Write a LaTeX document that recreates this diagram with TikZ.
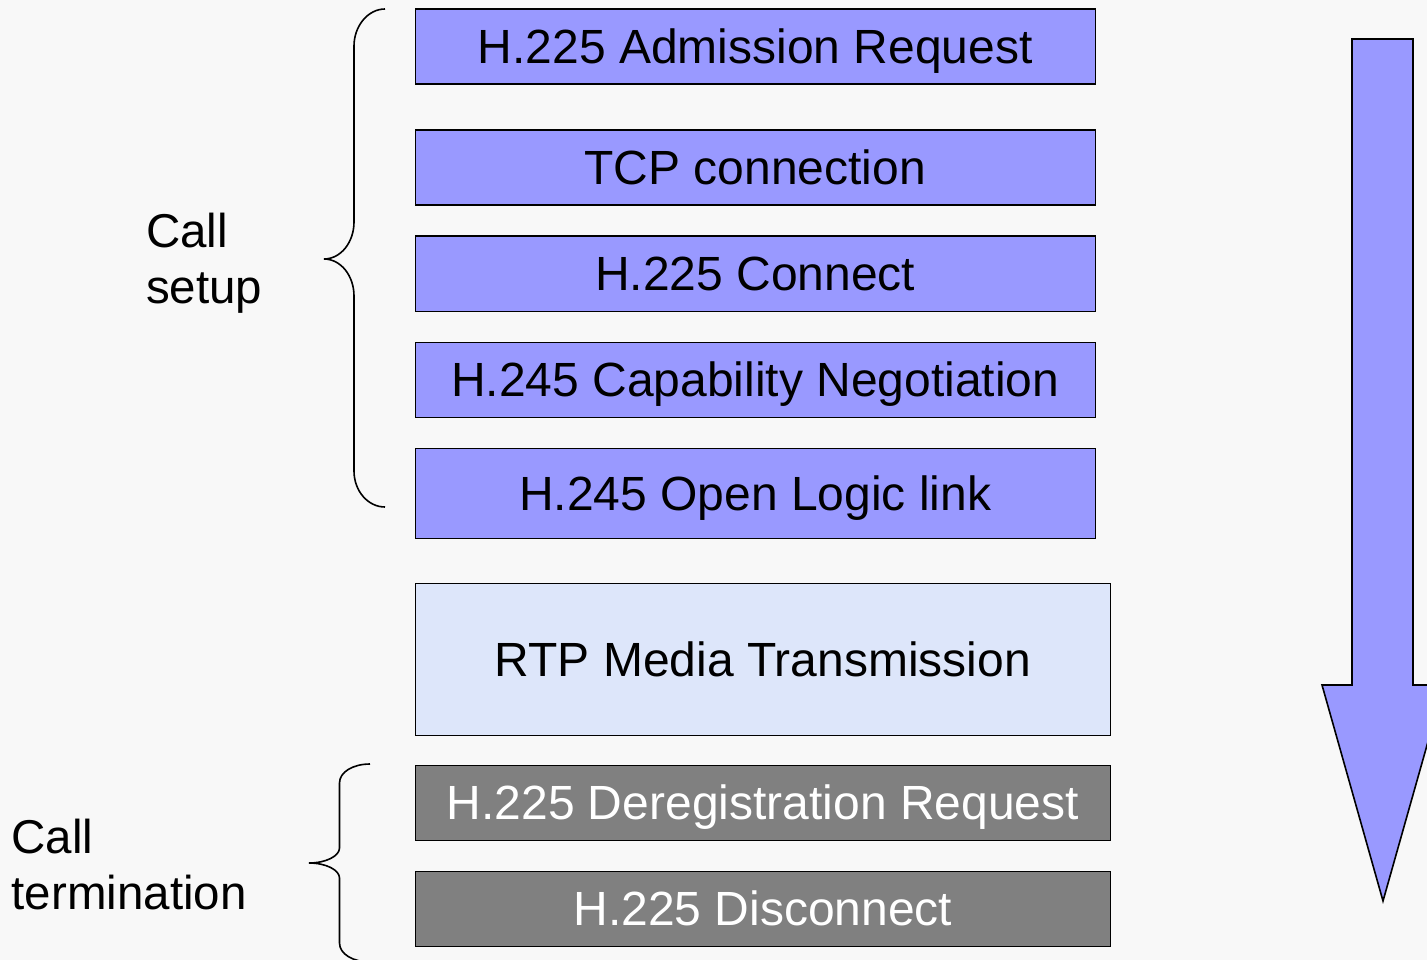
\documentclass[tikz,border=0pt]{standalone}
\usepackage{fontspec}
\setmainfont{Liberation Sans}
\definecolor{stepblue}{HTML}{9999FF}
\definecolor{mediablue}{RGB}{221,230,250}
\definecolor{endgrey}{HTML}{808080}
\definecolor{pagebg}{HTML}{F8F8F8}
\begin{document}
\begin{tikzpicture}[x=1pt,y=-1pt,
  phase/.style={draw=black, line width=1.6pt, inner sep=0pt, anchor=north west,
    minimum height=75pt, text height=34pt, text depth=0pt,
    font=\fontsize{48}{56}\selectfont},
  setupbox/.style={phase, fill=stepblue, minimum width=680pt},
  mediabox/.style={phase, fill=mediablue, minimum width=695pt},
  endbox/.style={phase, fill=endgrey, text=white, minimum width=695pt},
  grouplabel/.style={anchor=base west, align=left, inner sep=0pt,
    font=\fontsize{47.5}{56}\selectfont},
  bracket/.style={draw=black, line width=1.6pt},
  flowarrow/.style={draw=black, line width=1.6pt, fill=stepblue, line join=miter}]
\useasboundingbox (0,0) rectangle (1427,960);
\clip (0,0) rectangle (1427,960);
\fill[pagebg] (0,0) rectangle (1427,960);

% call setup steps
\node[setupbox] (arq) at (414.5,8.5) {H.225 Admission Request};
\node[setupbox] (tcp) at (414.5,129.5) {TCP connection};
\node[setupbox] (con) at (414.5,235.5) {H.225 Connect};
\node[setupbox] (cap) at (414.5,341.5) {H.245 Capability Negotiation};
\node[setupbox, minimum height=90pt] (olc) at (414.5,447.5) {H.245 Open Logic link};

% media phase
\node[mediabox, minimum height=152pt] (rtp) at (414.5,582.5) {RTP Media Transmission};

% call termination steps
\node[endbox] (drq) at (414.5,764.5) {H.225 Deregistration Request};
\node[endbox] (dis) at (414.5,870.5) {H.225 Disconnect};

% group labels (anchored on the baseline of the last line)
\node[grouplabel] (setup) at (146,303) {Call\\setup};
\node[grouplabel] (term) at (11.5,909) {Call\\termination};

% brace for the setup group
\draw[bracket] (385,9) .. controls (368,9) and (354,26) .. (354,46)
  -- (354,222) .. controls (354,242) and (341,259) .. (324,259)
  .. controls (341,259) and (354,276) .. (354,296)
  -- (354,471) .. controls (354,491) and (368,507) .. (385,507);

% brace for the termination group
\draw[bracket] (370,764) .. controls (353,764) and (339.5,772) .. (339.5,783)
  -- (339.5,848) .. controls (339.5,856) and (326,863) .. (309,863)
  .. controls (326,863) and (339.5,870) .. (339.5,878)
  -- (339.5,943) .. controls (339.5,954) and (353,962) .. (370,962);

% time arrow
\draw[flowarrow] (1352,39) -- (1413,39) -- (1413,685) -- (1444,685)
  -- (1383,901) -- (1322,685) -- (1352,685) -- cycle;
\end{tikzpicture}
\end{document}
